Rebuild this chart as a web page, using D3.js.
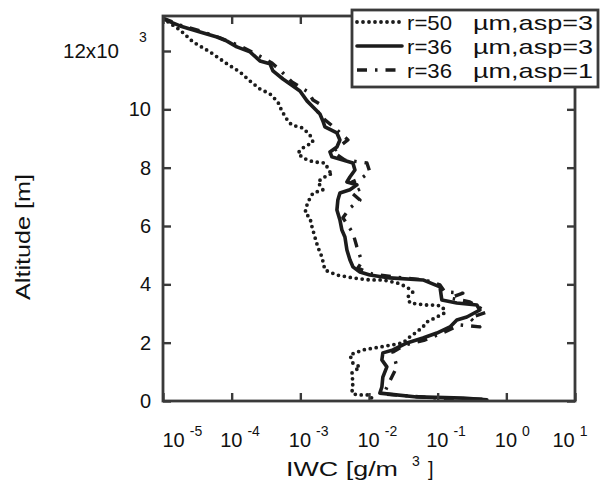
<!DOCTYPE html>
<html>
<head>
<meta charset="utf-8">
<script src="https://cdn.jsdelivr.net/npm/d3@7"></script>
<style>
  html, body { margin: 0; padding: 0; background: #fff; }
  svg { display: block; }
  text { font-family: "Liberation Sans", Arial, Helvetica, sans-serif; fill: #111; }
</style>
</head>
<body>
<svg id="chart" width="600" height="481"></svg>
<script>
// Ice water content profiles for three crystal habits
const seriesRadius = ["r=50", "r=36", "r=36"];
const seriesShape = ["\u00b5m,asp=3", "\u00b5m,asp=3", "\u00b5m,asp=1"];

const altR50asp3 = [13000, 12720, 12310, 11970, 11560, 11280, 10970, 10700, 10530, 10250,
  9940, 9600, 9460, 9360, 9120, 8880, 8680, 8500, 8330, 8200, 8160, 7850, 7820, 7650, 7510,
  7240, 7130, 6960, 6720, 6450, 6280, 5970, 5620, 5280, 4940, 4490, 4320, 4220, 4150, 4150,
  4050, 3910, 3740, 3570, 3360, 3290, 3290, 3220, 3020, 2880, 2710, 2540, 2370, 2200, 1990,
  1850, 1750, 1580, 1300, 1170, 960, 620, 270, 210, 210, 30];
const iwcR50asp3 = [1.18e-5, 1.77e-5, 2.74e-5, 4.83e-5, 8.55e-5, 1.32e-4, 1.85e-4, 2.58e-4, 3.61e-4, 4.72e-4,
  5.39e-4, 6.6e-4, 7.55e-4, 1.09e-3, 1.38e-3, 1.53e-3, 1.09e-3, 9.2e-4, 1.09e-3, 1.53e-3, 2.28e-3, 2.7e-3, 2.98e-3, 2.13e-3, 1.8e-3,
  2.13e-3, 1.53e-3, 1.38e-3, 1.25e-3, 1.17e-3, 1.38e-3, 1.48e-3, 1.63e-3, 1.8e-3, 2.06e-3, 2.28e-3, 3.41e-3, 5.83e-3, 1.03e-2, 1.59e-2,
  2.55e-2, 3.56e-2, 4.36e-2, 3.68e-2, 3.94e-2, 6.96e-2, 9.73e-2, 0.119, 0.127, 9.73e-2, 6.96e-2, 6.1e-2, 4.98e-2, 3.94e-2, 3.11e-2,
  1.44e-2, 8.15e-3, 5.27e-3, 5.83e-3, 7.38e-3, 5.64e-3, 5.83e-3, 5.64e-3, 6.67e-3, 1.03e-2, 1.14e-2];

const altR36asp3 = [13100, 12860, 12650, 12480, 12340, 12140, 11970, 11660, 11560, 11320,
  11040, 10800, 10630, 10290, 10080, 9840, 9600, 9400, 9190, 8950, 8710, 8540, 8370, 8260, 8160,
  7920, 7680, 7510, 7410, 7240, 7130, 6890, 6550, 6210, 5860, 5620, 5180, 4840, 4600, 4420,
  4320, 4220, 4150, 3910, 3460, 3360, 3290, 3120, 2880, 2780, 2540, 2330, 2160, 1990, 1750,
  1650, 1410, 1170, 820, 480, 270, 140, 100, 40];
const iwcR36asp3 = [1.0e-5, 1.77e-5, 3.46e-5, 6.11e-5, 8.55e-5, 1.19e-4, 1.85e-4, 2.58e-4, 3.61e-4, 3.99e-4,
  5.58e-4, 7.8e-4, 9.87e-4, 1.25e-3, 1.53e-3, 1.93e-3, 2.13e-3, 2.28e-3, 3.41e-3, 3.77e-3, 3.41e-3, 2.7e-3, 2.88e-3, 4.17e-3, 5.83e-3,
  6.24e-3, 5.27e-3, 4.77e-3, 6.67e-3, 5.27e-3, 3.77e-3, 3.52e-3, 3.41e-3, 3.77e-3, 4.03e-3, 4.46e-3, 4.77e-3, 5.27e-3, 5.83e-3, 7.38e-3,
  1.03e-2, 2.01e-2, 6.1e-2, 0.108, 0.115, 0.19, 0.372, 0.411, 0.266, 0.19, 0.151, 9.73e-2, 6.1e-2, 3.56e-2, 2.23e-2,
  1.59e-2, 1.54e-2, 1.82e-2, 1.59e-2, 1.54e-2, 1.44e-2, 4.98e-2, 0.233, 0.52];

const altR36asp1 = [13130, 12890, 12690, 12450, 12170, 11860, 11590, 11280, 10940, 10600,
  10320, 10180, 9910, 9640, 9360, 8950, 8740, 8540, 8260, 8160, 7850, 7650, 7510, 7300, 7130,
  6890, 6620, 6280, 5760, 5280, 4770, 4560, 4360, 4250, 4150, 3980, 3740, 3700, 3530, 3400,
  3050, 2850, 2540, 2610, 2370, 2090, 1920, 1680, 1170, 820, 550, 240, 100, 60];
const iwcR36asp1 = [1.0e-5, 1.77e-5, 3.46e-5, 6.76e-5, 1.32e-4, 2.41e-4, 3.86e-4, 5.39e-4, 7.55e-4, 1.29e-3,
  1.53e-3, 1.93e-3, 1.8e-3, 2.28e-3, 3.19e-3, 4.93e-3, 3.77e-3, 2.98e-3, 4.46e-3, 9.33e-3, 1.03e-2, 7.89e-3, 5.64e-3, 7.89e-3, 5.64e-3,
  7.38e-3, 5.27e-3, 4.17e-3, 5.83e-3, 6.67e-3, 7.89e-3, 6.89e-3, 1.10e-2, 2.38e-2, 6.52e-2, 0.108, 0.127, 0.233, 0.151, 0.294,
  0.52, 0.294, 0.411, 0.21, 0.127, 6.52e-2, 3.33e-2, 2.23e-2, 2.55e-2, 2.15e-2, 1.88e-2, 1.65e-2, 9.73e-2, 0.5];

const xTickExponents = [-5, -4, -3, -2, -1, 0, 1];
const yTickValues = [0, 2000, 4000, 6000, 8000, 10000, 12000];

const svg = d3.select("#chart");
const plot = { left: 163, right: 575, top: 16, bottom: 401 };
const x = d3.scaleLog().domain([1e-5, 10]).range([plot.left, plot.right]);
const y = d3.scaleLinear().domain([0, 13200]).range([plot.bottom, plot.top]);

const ink = "#1c1c1c";
const frameInk = "#3a3a3a";

// series styles
const styles = [
  { alt: altR50asp3, iwc: iwcR50asp3, dash: "0 6", width: 3.8, cap: "round" },
  { alt: altR36asp3, iwc: iwcR36asp3, dash: null, width: 3.6, cap: "round" },
  { alt: altR36asp1, iwc: iwcR36asp1, dash: "10 8 2.5 8", width: 3.4, cap: "butt" }
];

const line = d3.line().x(d => x(d[0])).y(d => y(d[1]));

svg.append("clipPath").attr("id", "plotclip")
  .append("rect")
  .attr("x", plot.left).attr("y", plot.top - 4)
  .attr("width", plot.right - plot.left + 4).attr("height", plot.bottom - plot.top + 4);

const lines = svg.append("g").attr("clip-path", "url(#plotclip)");
[2, 1, 0].forEach(i => {
  const s = styles[i];
  const pts = s.alt.map((a, k) => [s.iwc[k], a]);
  lines.append("path")
    .attr("d", line(pts))
    .attr("fill", "none")
    .attr("stroke", ink)
    .attr("stroke-width", s.width)
    .attr("stroke-linejoin", "round")
    .attr("stroke-linecap", s.cap)
    .attr("stroke-dasharray", s.dash);
});

// frame
svg.append("rect")
  .attr("x", plot.left).attr("y", plot.top)
  .attr("width", plot.right - plot.left).attr("height", plot.bottom - plot.top)
  .attr("fill", "none").attr("stroke", frameInk).attr("stroke-width", 2.8);

// ticks on all four sides, pointing inward
const xTicks = xTickExponents.map(e => Math.pow(10, e));
const xAxisB = d3.axisBottom(x).tickValues(xTicks).tickSizeInner(-8).tickSizeOuter(0).tickFormat("");
const xAxisT = d3.axisTop(x).tickValues(xTicks).tickSizeInner(-8).tickSizeOuter(0).tickFormat("");
const yAxisL = d3.axisLeft(y).tickValues(yTickValues).tickSizeInner(-8).tickSizeOuter(0).tickFormat("");
const yAxisR = d3.axisRight(y).tickValues(yTickValues).tickSizeInner(-8).tickSizeOuter(0).tickFormat("");

function styleAxis(g) {
  g.select(".domain").remove();
  g.selectAll(".tick line").attr("stroke", frameInk).attr("stroke-width", 2.4);
}
svg.append("g").attr("transform", `translate(0,${plot.bottom})`).call(xAxisB).call(styleAxis);
svg.append("g").attr("transform", `translate(0,${plot.top})`).call(xAxisT).call(styleAxis);
svg.append("g").attr("transform", `translate(${plot.left},0)`).call(yAxisL).call(styleAxis);
svg.append("g").attr("transform", `translate(${plot.right},0)`).call(yAxisR).call(styleAxis);

// x tick labels: 10 with superscript exponent
const xLab = svg.append("g");
xTickExponents.forEach((e, i) => {
  let cx = x(Math.pow(10, e));
  if (i === 0) cx += 11;
  if (i === xTickExponents.length - 1) cx -= 11;
  const t = xLab.append("text").attr("x", cx - 11.5).attr("y", 447).attr("font-size", 20);
  t.append("tspan").text("10");
  t.append("tspan").attr("dx", 5).attr("dy", -11).attr("font-size", 14).text(String(e));
});

// y tick labels
const yLab = svg.append("g");
yTickValues.forEach(v => {
  if (v === 12000) {
    yLab.append("text").attr("x", 119).attr("y", y(v) + 7).attr("text-anchor", "end")
      .attr("font-size", 20).attr("textLength", 56).attr("lengthAdjust", "spacingAndGlyphs").text("12x10");
    yLab.append("text").attr("x", 139).attr("y", y(v) - 9).attr("font-size", 14).text("3");
  } else {
    yLab.append("text").attr("x", 151).attr("y", y(v) + 7).attr("text-anchor", "end")
      .attr("font-size", 20).text(v / 1000);
  }
});

// axis titles
svg.append("text").attr("x", 286).attr("y", 476).attr("font-size", 20)
  .attr("textLength", 112).attr("lengthAdjust", "spacingAndGlyphs").text("IWC [g/m");
svg.append("text").attr("x", 412).attr("y", 466).attr("font-size", 14).text("3");
svg.append("text").attr("x", 428).attr("y", 476).attr("font-size", 20).text("]");

svg.append("text")
  .attr("transform", "translate(30,237) rotate(-90)")
  .attr("text-anchor", "middle").attr("font-size", 21)
  .attr("textLength", 126).attr("lengthAdjust", "spacingAndGlyphs")
  .text("Altitude [m]");

// legend
const leg = svg.append("g");
leg.append("rect").attr("x", 352).attr("y", 10).attr("width", 246).attr("height", 77)
  .attr("fill", "#fff").attr("stroke", frameInk).attr("stroke-width", 2.8);
const rowY = [22, 46, 70];
styles.forEach((s, i) => {
  leg.append("line")
    .attr("x1", 357).attr("x2", 402).attr("y1", rowY[i]).attr("y2", rowY[i])
    .attr("stroke", ink).attr("stroke-width", s.width)
    .attr("stroke-linecap", s.cap).attr("stroke-dasharray", s.dash);
  leg.append("text").attr("x", 407).attr("y", rowY[i] + 8).attr("font-size", 21)
    .attr("textLength", 45).attr("lengthAdjust", "spacingAndGlyphs")
    .text(seriesRadius[i]);
  leg.append("text").attr("x", 473).attr("y", rowY[i] + 8).attr("font-size", 21)
    .attr("textLength", 120).attr("lengthAdjust", "spacingAndGlyphs")
    .text(seriesShape[i]);
});
</script>
</body>
</html>
